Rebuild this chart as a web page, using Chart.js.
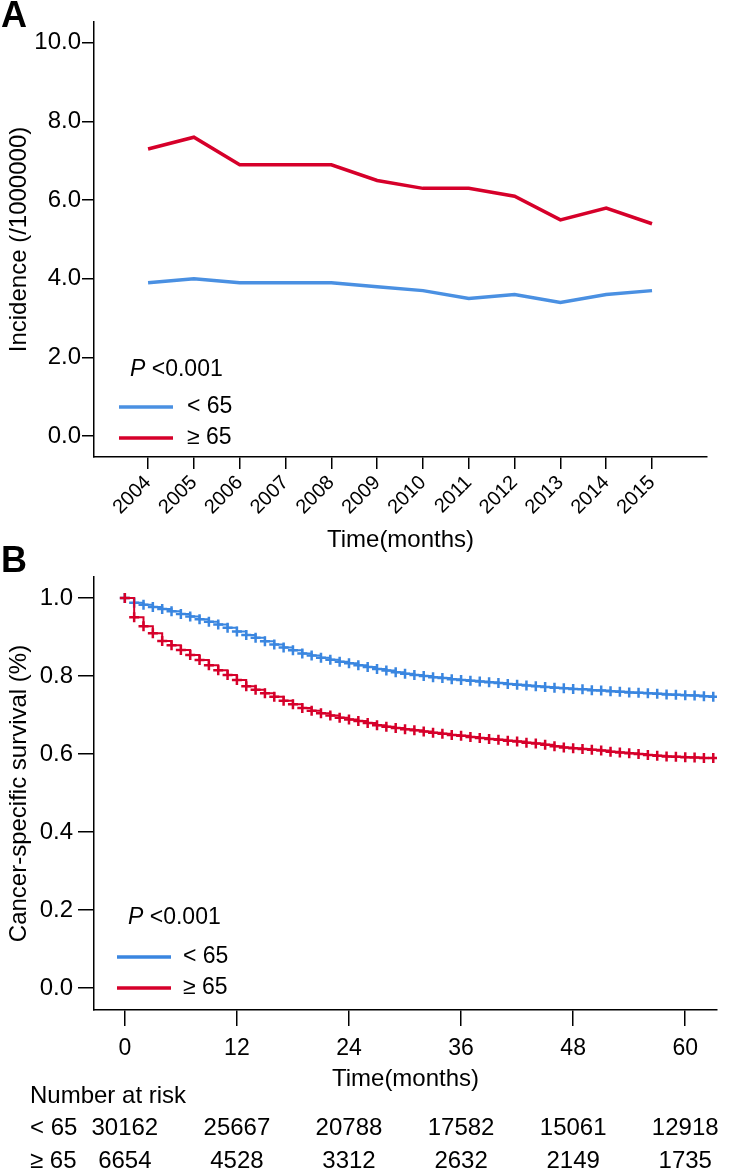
<!DOCTYPE html>
<html>
<head>
<meta charset="utf-8">
<script src="https://cdn.jsdelivr.net/npm/chart.js@4.4.1/dist/chart.umd.min.js"></script>
<style>
  html, body { margin: 0; padding: 0; background: #fff; }
  body { width: 735px; height: 1171px; position: relative; overflow: hidden; }
  canvas { position: absolute; left: 0; }
  #chartA { top: 0; }
  #chartB { top: 540px; }
</style>
</head>
<body>
<canvas id="chartA" width="735" height="560"></canvas>
<canvas id="chartB" width="735" height="631"></canvas>
<script>
// panel A: incidence by year
const years = [2004, 2005, 2006, 2007, 2008, 2009, 2010, 2011, 2012, 2013, 2014, 2015];
const incidenceUnder65 = [3.9, 4.0, 3.9, 3.9, 3.9, 3.8, 3.7, 3.5, 3.6, 3.4, 3.6, 3.7];
const incidenceOver65 = [7.3, 7.6, 6.9, 6.9, 6.9, 6.5, 6.3, 6.3, 6.1, 5.5, 5.8, 5.4];
const incidenceTicks = [0, 2, 4, 6, 8, 10];

// panel B: cancer-specific survival, read per month
const months = [0, 1, 2, 3, 4, 5, 6, 7, 8, 9, 10, 11, 12, 13, 14, 15, 16, 17, 18, 19,
    20, 21, 22, 23, 24, 25, 26, 27, 28, 29, 30, 31, 32, 33, 34, 35, 36, 37, 38, 39,
    40, 41, 42, 43, 44, 45, 46, 47, 48, 49, 50, 51, 52, 53, 54, 55, 56, 57, 58, 59,
    60, 61, 62, 63];
const survivalUnder65 = [1.000, 0.988, 0.983, 0.977, 0.972, 0.966, 0.959, 0.953, 0.946, 0.939,
    0.932, 0.924, 0.914, 0.905, 0.898, 0.889, 0.881, 0.873, 0.866, 0.858,
    0.853, 0.847, 0.842, 0.837, 0.833, 0.828, 0.823, 0.818, 0.814, 0.810,
    0.806, 0.803, 0.800, 0.797, 0.795, 0.792, 0.790, 0.788, 0.786, 0.784,
    0.782, 0.780, 0.778, 0.776, 0.774, 0.772, 0.770, 0.769, 0.767, 0.766,
    0.764, 0.763, 0.761, 0.760, 0.758, 0.757, 0.756, 0.755, 0.753, 0.752,
    0.751, 0.750, 0.748, 0.747];
const survivalOver65 = [1.000, 0.951, 0.928, 0.910, 0.890, 0.879, 0.867, 0.854, 0.841, 0.828,
    0.815, 0.803, 0.790, 0.774, 0.765, 0.756, 0.747, 0.737, 0.728, 0.718,
    0.711, 0.705, 0.699, 0.693, 0.689, 0.685, 0.680, 0.674, 0.670, 0.667,
    0.664, 0.661, 0.658, 0.655, 0.652, 0.649, 0.647, 0.644, 0.641, 0.639,
    0.637, 0.634, 0.632, 0.629, 0.627, 0.624, 0.620, 0.617, 0.615, 0.613,
    0.611, 0.609, 0.606, 0.604, 0.602, 0.600, 0.598, 0.596, 0.594, 0.593,
    0.592, 0.591, 0.590, 0.590];
const survivalTicks = [0, 0.2, 0.4, 0.6, 0.8, 1.0];
const timeTicks = [0, 12, 24, 36, 48, 60];

// number at risk table
const riskTimes = [0, 12, 24, 36, 48, 60];
const riskUnder65 = [30162, 25667, 20788, 17582, 15061, 12918];
const riskOver65 = [6654, 4528, 3312, 2632, 2149, 1735];

const groupLabels = ['< 65', '\u2265 65'];
const pValueText = ' <0.001';

const FONT = '"Liberation Sans", Arial, Helvetica, sans-serif';
const BLUE = '#4a90e2';
const BLUE_B = '#3a86e0';
const RED = '#d6002a';

Chart.defaults.font.family = FONT;
Chart.defaults.color = '#000';

// P value + line key drawn inside the plot
const keyPlugin = {
  id: 'key',
  afterDraw(chart, args, o) {
    const {ctx, chartArea} = chart;
    ctx.save();
    ctx.textBaseline = 'middle';
    ctx.textAlign = 'left';
    ctx.fillStyle = '#000';
    const py = chartArea.bottom + o.pY;
    ctx.font = 'italic 23px ' + FONT;
    ctx.fillText('P', o.pX, py);
    const pw = ctx.measureText('P').width;
    ctx.font = '23px ' + FONT;
    ctx.fillText(pValueText, o.pX + pw, py);
    chart.data.datasets.forEach((ds, i) => {
      const y = chartArea.bottom + o.rows[i];
      ctx.strokeStyle = ds.borderColor;
      ctx.lineWidth = 3.5;
      ctx.beginPath();
      ctx.moveTo(o.lineX0, y);
      ctx.lineTo(o.lineX1, y);
      ctx.stroke();
      ctx.fillText(ds.label, o.textX, y);
    });
    ctx.restore();
  }
};

const letterPlugin = {
  id: 'letter',
  afterDraw(chart, args, o) {
    const {ctx} = chart;
    ctx.save();
    ctx.font = 'bold 36px ' + FONT;
    ctx.fillStyle = '#000';
    ctx.textAlign = 'left';
    ctx.textBaseline = 'alphabetic';
    ctx.fillText(o.text, o.x, o.y);
    ctx.restore();
  }
};

const riskPlugin = {
  id: 'risk',
  afterDraw(chart, args, o) {
    const {ctx} = chart;
    const xs = chart.scales.x;
    ctx.save();
    ctx.font = '24px ' + FONT;
    ctx.fillStyle = '#000';
    ctx.textBaseline = 'middle';
    ctx.textAlign = 'left';
    ctx.fillText('Number at risk', o.x, o.headY);
    [riskUnder65, riskOver65].forEach((row, r) => {
      const y = o.rowY[r];
      ctx.textAlign = 'left';
      ctx.fillText(groupLabels[r], o.x, y);
      ctx.textAlign = 'center';
      row.forEach((n, k) => ctx.fillText(String(n), xs.getPixelForValue(riskTimes[k]), y));
    });
    ctx.restore();
  }
};

function axisStyle(tickLen) {
  return {
    grid: { display: true, drawOnChartArea: false, drawTicks: true, tickLength: tickLen, color: '#000', lineWidth: 1.5 },
    border: { display: true, color: '#000', width: 1.5 }
  };
}

new Chart(document.getElementById('chartA'), {
  type: 'line',
  data: {
    datasets: [{
      label: groupLabels[0],
      data: years.map((yr, i) => ({x: yr, y: incidenceUnder65[i]})),
      borderColor: BLUE,
      borderWidth: 3.5,
      pointRadius: 0,
      order: 1
    }, {
      label: groupLabels[1],
      data: years.map((yr, i) => ({x: yr, y: incidenceOver65[i]})),
      borderColor: RED,
      borderWidth: 3.5,
      pointRadius: 0,
      order: 0
    }]
  },
  options: {
    responsive: false,
    animation: false,
    events: [],
    layout: { padding: { top: 22, right: 28, left: 0, bottom: 0 } },
    plugins: {
      legend: { display: false },
      tooltip: { enabled: false },
      key: { pX: 130, pY: -87, rows: [-50, -19], lineX0: 119, lineX1: 173, textX: 187 },
      letter: { text: 'A', x: 1, y: 27 }
    },
    scales: {
      x: {
        type: 'linear',
        min: 2002.82,
        max: 2016.2,
        afterBuildTicks: s => { s.ticks = years.map(v => ({value: v})); },
        afterFit: s => { s.height = 103; },
        ticks: { font: {size: 20}, color: '#000', minRotation: 45, maxRotation: 45, padding: 2, autoSkip: false,
                 callback: v => String(v) },
        title: { display: true, text: 'Time(months)', font: {size: 24}, color: '#000', padding: {top: 0, bottom: 5} },
        ...axisStyle(12)
      },
      y: {
        type: 'linear',
        min: -0.53,
        max: 10.53,
        afterBuildTicks: s => { s.ticks = incidenceTicks.map(v => ({value: v})); },
        afterFit: s => { s.width = 94; },
        ticks: { font: {size: 24}, color: '#000', padding: 1, callback: v => v.toFixed(1) },
        title: { display: true, text: 'Incidence (/1000000)', font: {size: 24}, color: '#000', padding: {top: 5, bottom: 0} },
        ...axisStyle(12)
      }
    }
  },
  plugins: [keyPlugin, letterPlugin]
});

new Chart(document.getElementById('chartB'), {
  type: 'line',
  data: {
    datasets: [{
      label: groupLabels[0],
      data: months.map((m, i) => ({x: m, y: survivalUnder65[i]})),
      borderColor: BLUE_B,
      borderWidth: 2,
      stepped: 'before',
      pointStyle: 'cross',
      pointRadius: 5,
      pointBorderWidth: 2.5,
      pointBorderColor: BLUE_B,
      order: 1
    }, {
      label: groupLabels[1],
      data: months.map((m, i) => ({x: m, y: survivalOver65[i]})),
      borderColor: RED,
      borderWidth: 2,
      stepped: 'before',
      pointStyle: 'cross',
      pointRadius: 5,
      pointBorderWidth: 2.5,
      pointBorderColor: RED,
      order: 0
    }]
  },
  options: {
    responsive: false,
    animation: false,
    events: [],
    layout: { padding: { top: 37, right: 18, left: 0, bottom: 73 } },
    plugins: {
      legend: { display: false },
      tooltip: { enabled: false },
      key: { pX: 128, pY: -92, rows: [-53, -22], lineX0: 117, lineX1: 171, textX: 183 },
      letter: { text: 'B', x: 1, y: 32 },
      risk: { x: 30, headY: 556, rowY: [588, 621] }
    },
    scales: {
      x: {
        type: 'linear',
        min: -3.3,
        max: 63.4,
        afterBuildTicks: s => { s.ticks = timeTicks.map(v => ({value: v})); },
        afterFit: s => { s.height = 88; },
        ticks: { font: {size: 23}, color: '#000', maxRotation: 0, padding: 9, autoSkip: false,
                 callback: v => String(v) },
        title: { display: true, text: 'Time(months)', font: {size: 24}, color: '#000', padding: {top: 0, bottom: 4} },
        ...axisStyle(16)
      },
      y: {
        type: 'linear',
        min: -0.056,
        max: 1.054,
        afterBuildTicks: s => { s.ticks = survivalTicks.map(v => ({value: v})); },
        afterFit: s => { s.width = 94; },
        ticks: { font: {size: 24}, color: '#000', padding: 5, callback: v => v.toFixed(1) },
        title: { display: true, text: 'Cancer-specific survival (%)', font: {size: 24}, color: '#000', padding: {top: 5, bottom: 0} },
        ...axisStyle(16)
      }
    }
  },
  plugins: [keyPlugin, letterPlugin, riskPlugin]
});
</script>
</body>
</html>
